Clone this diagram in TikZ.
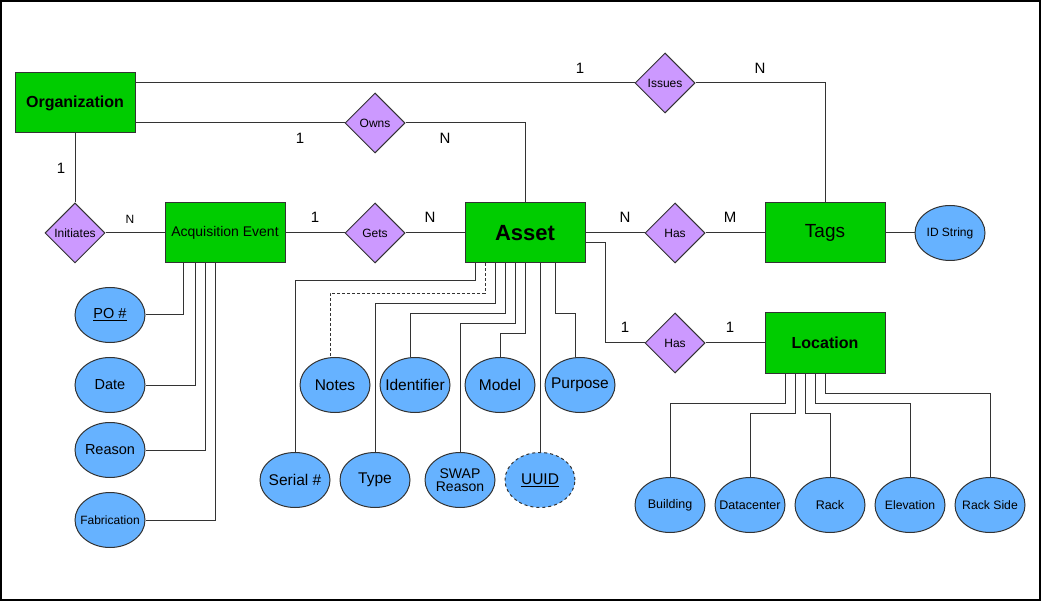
\documentclass[tikz,border=0pt]{standalone}
\usepackage{fontspec}
\setmainfont{Liberation Sans}
\usetikzlibrary{shapes.geometric}
\definecolor{entgreen}{HTML}{00CC00}
\definecolor{relpurple}{HTML}{CC99FF}
\definecolor{attblue}{HTML}{66B2FF}
\definecolor{edgegray}{HTML}{333333}
\newcommand{\fs}[1]{\fontsize{#1}{#1}\selectfont}
\tikzset{
  entity/.style={rectangle, draw=edgegray, fill=entgreen, line width=1pt, minimum width=120pt, minimum height=60pt, inner sep=0pt},
  rel/.style={diamond, draw=edgegray, fill=relpurple, line width=1pt, minimum width=60pt, minimum height=60pt, inner sep=0pt, font=\fs{12}},
  attr/.style={ellipse, draw=edgegray, fill=attblue, line width=1pt, minimum width=70pt, minimum height=55pt, inner sep=0pt},
  conn/.style={draw=black!80, line width=1pt},
  card/.style={inner sep=0pt, font=\fs{15}},
}
\begin{document}
\begin{tikzpicture}[x=1pt,y=-1pt]
\useasboundingbox (0,0) rectangle (1041,601);
\draw[line width=2pt] (1,1) rectangle (1040,600);

% entities
\node[entity, font=\bfseries\fs{16}] (org) at (75,103) {Organization};
\node[entity, font=\fs{14}] (acq) at (225,233) {Acquisition Event};
\node[entity, font=\bfseries\fs{22}] (asset) at (525,233) {Asset};
\node[entity, font=\fs{19}] (tags) at (825,233) {Tags};
\node[entity, font=\bfseries\fs{16}] (loc) at (825,343) {Location};

% relationships
\node[rel] (issues) at (665,83) {Issues};
\node[rel] (owns) at (375,123) {Owns};
\node[rel] (init) at (75,233) {Initiates};
\node[rel] (gets) at (375,233) {Gets};
\node[rel] (has1) at (675,233) {Has};
\node[rel] (has2) at (675,343) {Has};

% attributes
\node[attr, font=\fs{12}] (idstr) at (950,233) {\makebox[0pt]{ID String}};
\node[attr, font=\fs{14.5}] (po) at (110,315) {\makebox[0pt]{\underline{PO \#}}};
\node[attr, font=\fs{14.5}] (date) at (110,385) {\makebox[0pt]{Date}};
\node[attr, font=\fs{14.5}] (reason) at (110,450) {\makebox[0pt]{Reason}};
\node[attr, font=\fs{12}] (fab) at (110,520) {\makebox[0pt]{Fabrication}};
\node[attr, font=\fs{15.5}] (serial) at (295,480) {\makebox[0pt]{Serial \#}};
\node[attr, font=\fs{15.5}] (notes) at (335,385) {\makebox[0pt]{Notes}};
\node[attr, font=\fs{15.5}] (type) at (375,480) {\makebox[0pt]{Type}};
\node[attr, font=\fs{15.5}] (ident) at (415,385) {\makebox[0pt]{Identifier}};
\node[attr, font=\fs{14}] (swap) at (460,480) {\makebox[0pt]{\shortstack{SWAP\\Reason}}};
\node[attr, font=\fs{15.5}] (model) at (500,385) {\makebox[0pt]{Model}};
\node[attr, font=\fs{15.5}, dashed] (uuid) at (540,480) {\makebox[0pt]{\underline{UUID}}};
\node[attr, font=\fs{15.5}] (purpose) at (580,385) {\makebox[0pt]{Purpose}};
\node[attr, font=\fs{12.5}] (building) at (670,505) {\makebox[0pt]{Building}};
\node[attr, font=\fs{12.5}] (datacenter) at (750,505) {\makebox[0pt]{Datacenter}};
\node[attr, font=\fs{12.5}] (rack) at (830,505) {\makebox[0pt]{Rack}};
\node[attr, font=\fs{12.2}] (elevation) at (910,505) {\makebox[0pt]{Elevation}};
\node[attr, font=\fs{12.2}] (rackside) at (990,505) {\makebox[0pt]{Rack Side}};

% relationship connectors
\draw[conn] ([yshift=20pt]org.east) -- (issues.west);
\draw[conn] (issues.east) -| (tags.north);
\draw[conn] ([yshift=-20pt]org.east) -- (owns.west);
\draw[conn] (owns.east) -| (asset.north);
\draw[conn] (org.south) -- (init.north);
\draw[conn] (init.east) -- (acq.west);
\draw[conn] (acq.east) -- (gets.west);
\draw[conn] (gets.east) -- (asset.west);
\draw[conn] (asset.east) -- (has1.west);
\draw[conn] (has1.east) -- (tags.west);
\draw[conn] (tags.east) -- (idstr.west);
\draw[conn] ([yshift=-10pt]asset.east) -- ++(20,0) |- (has2.west);
\draw[conn] (has2.east) -- (loc.west);

% acquisition attributes
\draw[conn] ([xshift=-42pt]acq.south) |- (po.east);
\draw[conn] ([xshift=-30pt]acq.south) |- (date.east);
\draw[conn] ([xshift=-20pt]acq.south) |- (reason.east);
\draw[conn] ([xshift=-10pt]acq.south) |- (fab.east);

% asset attributes
\draw[conn] ([xshift=-50pt]asset.south) -- ++(0,17) -| (serial.north);
\draw[conn, dashed, dash pattern=on 3pt off 2pt] ([xshift=-40pt]asset.south) -- ++(0,30) -| ([xshift=-5pt]notes.north);
\draw[conn] ([xshift=-30pt]asset.south) -- ++(0,40) -| (type.north);
\draw[conn] ([xshift=-20pt]asset.south) -- ++(0,50) -| ([xshift=-5pt]ident.north);
\draw[conn] ([xshift=-10pt]asset.south) -- ++(0,60) -| (swap.north);
\draw[conn] (asset.south) -- ++(0,70) -| (model.north);
\draw[conn] ([xshift=15pt]asset.south) -- (uuid.north);
\draw[conn] ([xshift=30pt]asset.south) -- ++(0,50) -| ([xshift=-5pt]purpose.north);

% location attributes
\draw[conn] ([xshift=-40pt]loc.south) -- ++(0,30) -| (building.north);
\draw[conn] ([xshift=-30pt]loc.south) -- ++(0,40) -| (datacenter.north);
\draw[conn] ([xshift=-20pt]loc.south) -- ++(0,40) -| (rack.north);
\draw[conn] ([xshift=-10pt]loc.south) -- ++(0,30) -| (elevation.north);
\draw[conn] (loc.south) -- ++(0,20) -| (rackside.north);

% cardinalities
\node[card] (c1) at (580,68) {1};
\node[card] (c2) at (760,68) {N};
\node[card] (c3) at (300,138) {1};
\node[card] (c4) at (445,138) {N};
\node[card] (c5) at (61,168) {1};
\node[card, font=\fs{12}] (c6) at (130,219) {N};
\node[card] (c7) at (315,217) {1};
\node[card] (c8) at (430,217) {N};
\node[card] (c9) at (625,217) {N};
\node[card] (c10) at (730,217) {M};
\node[card] (c11) at (625,327) {1};
\node[card] (c12) at (730,327) {1};
\end{tikzpicture}
\end{document}
